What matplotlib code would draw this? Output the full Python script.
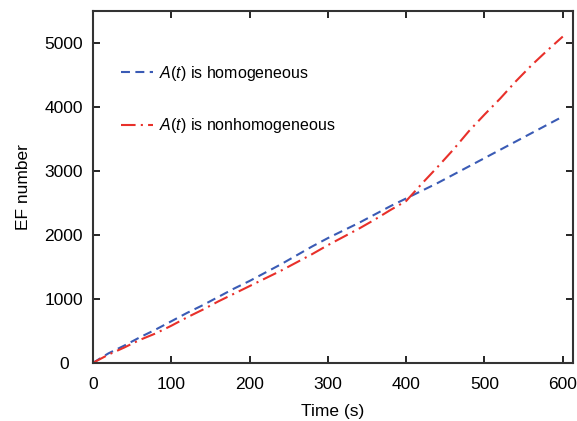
import numpy as np
import matplotlib.pyplot as plt

plt.rcParams['font.family'] = ['Liberation Sans', 'DejaVu Sans']
plt.rcParams['mathtext.fontset'] = 'custom'
plt.rcParams['mathtext.it'] = 'Liberation Sans:italic'
plt.rcParams['mathtext.rm'] = 'Liberation Sans'

# data
time_s = [0, 20, 40, 60, 80, 100, 120, 140, 160, 180, 200, 220, 240, 260, 280, 300,
          320, 340, 360, 380, 400, 420, 440, 460, 480, 500, 520, 540, 560, 580, 600]
ef_homog = [0, 150, 270, 400, 520, 650, 780, 900, 1030, 1160, 1280, 1410, 1540, 1680,
            1820, 1950, 2070, 2190, 2320, 2450, 2570, 2690, 2810, 2940, 3070, 3200,
            3330, 3460, 3590, 3720, 3850]
ef_nonhomog = [0, 130, 240, 360, 460, 580, 710, 830, 960, 1080, 1200, 1320, 1440,
               1570, 1700, 1840, 1970, 2100, 2240, 2390, 2530, 2800, 3060, 3330,
               3620, 3880, 4130, 4400, 4650, 4880, 5100]

fig = plt.figure(figsize=(5.77, 4.21), dpi=100)
ax = fig.add_axes([0.161, 0.138, 0.832, 0.836])

ax.plot(time_s, ef_homog, color='#3a5bb5', lw=1.5, linestyle=(0, (4.3, 2.6)),
        label='$A(t)$ is homogeneous')
ax.plot(time_s, ef_nonhomog, color='#e8302a', lw=1.5, linestyle=(0, (7, 2.5, 1, 2.5)),
        label='$A(t)$ is nonhomogeneous')

ax.set_xlim(0, 613)
ax.set_ylim(0, 5500)
ax.set_xticks(range(0, 601, 100))
ax.set_yticks(range(0, 5001, 1000))
ax.tick_params(direction='in', top=True, right=True, length=5, width=1.2, labelsize=12.5)
ax.tick_params(axis='x', pad=10)
ax.tick_params(axis='y', pad=21)
for lab in ax.get_yticklabels():
    lab.set_horizontalalignment('center')
for s in ax.spines.values():
    s.set_linewidth(1.5)
    s.set_color('#333333')

ax.set_xlabel('Time (s)', fontsize=12.5, labelpad=9)
ax.set_ylabel('EF number', fontsize=12.5, labelpad=10)

ax.legend(loc='upper left', frameon=False, fontsize=11.5, handlelength=2.0,
          handletextpad=0.4, labelspacing=2.1, borderpad=0, borderaxespad=0,
          bbox_to_anchor=(0.058, 0.85))

fig.savefig('out.png', dpi=100)
